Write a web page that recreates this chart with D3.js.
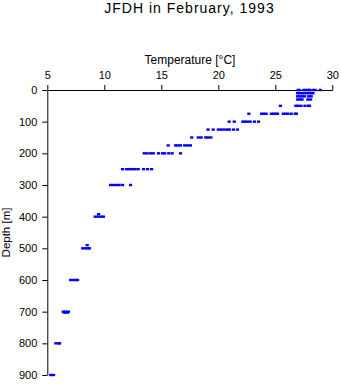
<!DOCTYPE html>
<html>
<head>
<meta charset="utf-8">
<script src="https://cdn.jsdelivr.net/npm/d3@7"></script>
<style>
  html, body { margin: 0; padding: 0; background: #fff; }
  text { font-family: "Liberation Sans", Arial, sans-serif; }
</style>
</head>
<body>
<svg id="chart" width="341" height="384"></svg>
<script>
const title = "JFDH in February, 1993";
const xLabel = "Temperature [°C]";
const yLabel = "Depth [m]";
const xTicks = [5, 10, 15, 20, 25, 30];
const yTicks = [0, 100, 200, 300, 400, 500, 600, 700, 800, 900];

const depths = [0, 10, 20, 30, 50, 75, 100, 125, 150, 175, 200, 250, 300, 392, 400, 490, 500, 600, 700, 703, 800, 900];
const temps = [
  [27.0, 27.1, 27.5, 27.7, 27.9, 28.0, 28.3, 28.5, 28.95],
  [26.95, 27.15, 27.35, 27.55, 27.75, 27.95, 28.15, 28.3],
  [26.95, 27.15, 27.35, 27.55, 27.9, 28.15],
  [26.95, 27.15, 27.35, 27.85, 28.1],
  [25.45, 26.8, 27.0, 27.25, 27.6, 27.9, 28.0],
  [22.68, 23.8, 24.0, 24.2, 24.65, 24.85, 25.05, 25.2, 25.7, 25.9, 26.1, 26.4, 26.75, 26.85],
  [20.95, 21.4, 22.15, 22.35, 22.55, 22.8, 23.17, 23.53],
  [19.1, 19.55, 20.0, 20.25, 20.5, 20.75, 20.97, 21.33, 21.68],
  [17.67, 18.25, 18.5, 18.9, 19.1, 19.35],
  [15.6, 16.25, 16.45, 16.68, 17.05, 17.3, 17.55],
  [13.5, 13.75, 14.05, 14.3, 14.75, 15.1, 15.3, 15.65, 15.95, 16.68],
  [11.6, 11.95, 12.2, 12.45, 12.7, 12.97, 13.45, 13.8, 14.15],
  [10.55, 10.8, 11.05, 11.3, 11.6, 12.3],
  [9.5],
  [9.2, 9.45, 9.7, 9.92],
  [8.5],
  [8.1, 8.35, 8.55, 8.7],
  [7.05, 7.3, 7.5, 7.65],
  [6.4, 6.6, 6.85],
  [6.5, 6.75],
  [5.75, 6.0, 6.08],
  [5.3, 5.55]
];

const points = [];
depths.forEach((d, i) => temps[i].forEach(t => points.push({ t, d })));

const svg = d3.select("#chart");
const x = d3.scaleLinear().domain([5, 30]).range([47.3, 332.3]);
const y = d3.scaleLinear().domain([0, 900]).range([90, 375]);

// Title
svg.append("text")
  .attr("x", 189.5).attr("y", 13)
  .attr("text-anchor", "middle")
  .attr("font-size", "14px")
  .attr("letter-spacing", "1px")
  .attr("fill", "#000")
  .text(title);

// Top axis
const gx = svg.append("g")
  .attr("transform", `translate(0,${y(0)})`)
  .call(d3.axisTop(x).tickValues(xTicks).tickSize(5).tickSizeOuter(0).tickPadding(6).tickFormat(d3.format("d")));
gx.selectAll("text").attr("font-size", "11px").attr("font-family", "Liberation Sans, Arial, sans-serif").attr("fill", "#000");
gx.selectAll("line, path").attr("stroke", "#000");

// Left axis
const gy = svg.append("g")
  .attr("transform", `translate(${x(5)},0)`)
  .call(d3.axisLeft(y).tickValues(yTicks).tickSize(5).tickSizeOuter(0).tickPadding(5).tickFormat(d3.format("d")));
gy.selectAll("text").attr("font-size", "11px").attr("font-family", "Liberation Sans, Arial, sans-serif").attr("fill", "#000");
gy.selectAll("line, path").attr("stroke", "#000");

// Axis labels
svg.append("text")
  .attr("x", 190).attr("y", 64)
  .attr("text-anchor", "middle")
  .attr("font-size", "12px")
  .attr("fill", "#000")
  .text(xLabel);

svg.append("text")
  .attr("transform", `translate(10,${(y(0) + y(900)) / 2}) rotate(-90)`)
  .attr("text-anchor", "middle")
  .attr("font-size", "11.5px")
  .attr("fill", "#000")
  .text(yLabel);

// Points
svg.append("g").selectAll("rect")
  .data(points)
  .join("rect")
  .attr("x", p => x(p.t) - 1.6)
  .attr("y", p => y(p.d) - 1.2)
  .attr("width", 3.2)
  .attr("height", 2.4)
  .attr("fill", "#0000ff");
</script>
</body>
</html>
